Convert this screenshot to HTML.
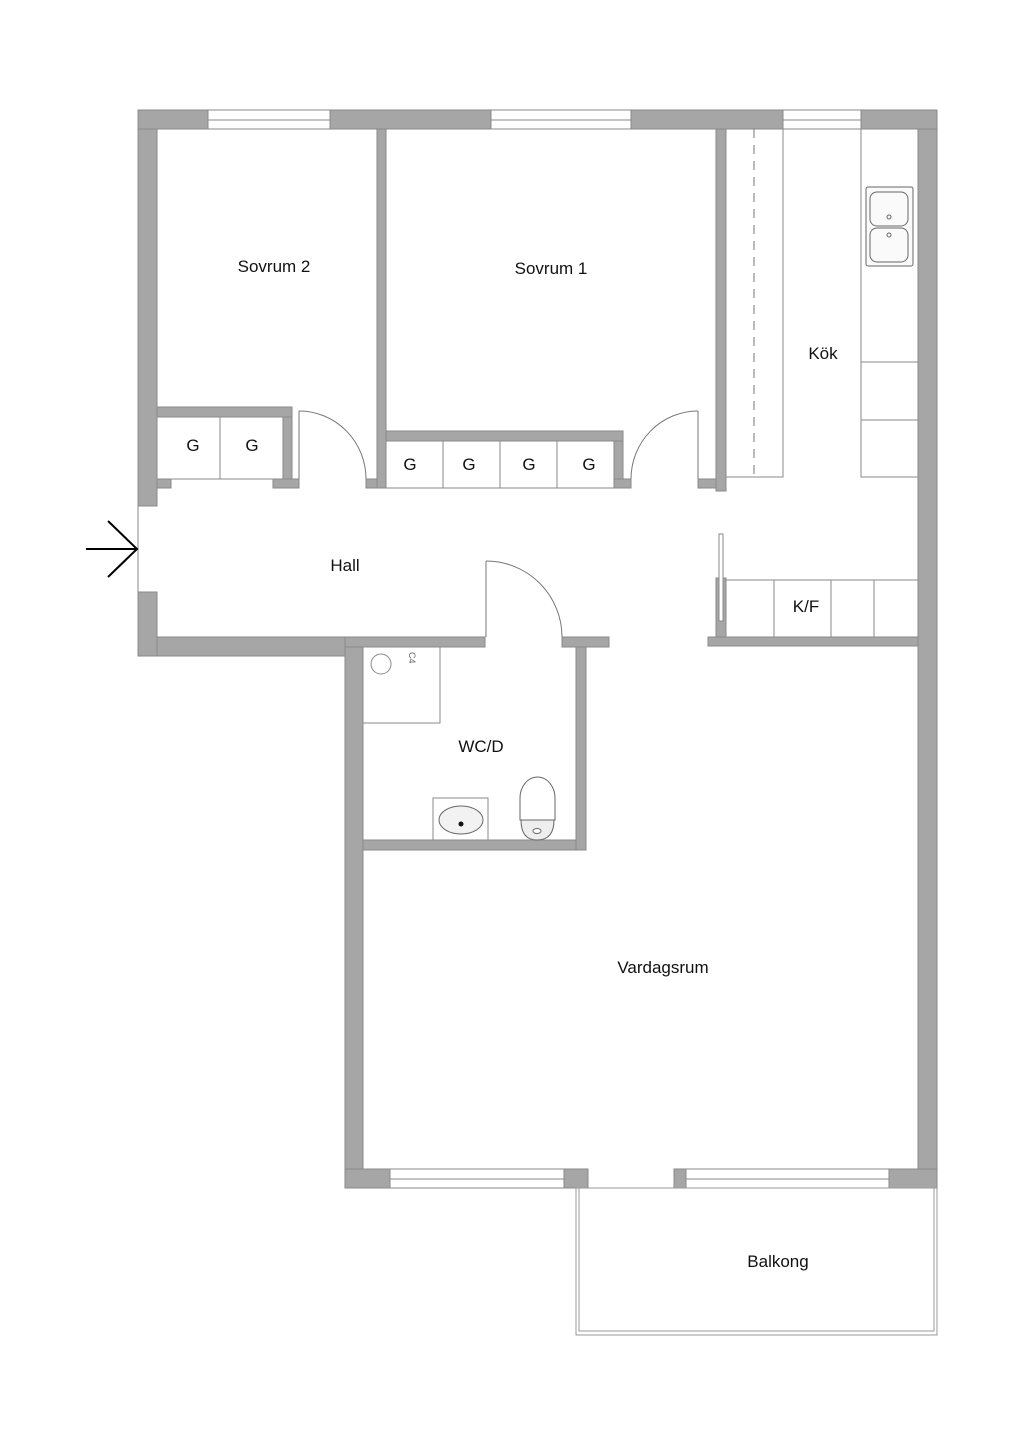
<!DOCTYPE html>
<html><head><meta charset="utf-8"><style>
html,body{margin:0;padding:0;background:#fff;}
svg{display:block;}
text{font-family:"Liberation Sans",sans-serif;font-size:17px;fill:#111;}
</style></head><body>
<svg width="1024" height="1449" viewBox="0 0 1024 1449" xmlns="http://www.w3.org/2000/svg">
<g fill="#a6a6a6" stroke="#8a8a8a" stroke-width="1">
<!-- top wall segments -->
<rect x="138" y="110" width="70" height="19"/>
<rect x="330" y="110" width="161" height="19"/>
<rect x="631" y="110" width="152" height="19"/>
<rect x="861" y="110" width="76" height="19"/>
<!-- left wall -->
<rect x="138" y="129" width="19" height="377"/>
<rect x="138" y="592" width="19" height="64"/>
<!-- hall bottom wall -->
<rect x="157" y="637" width="188" height="19"/>
<rect x="345" y="637" width="140" height="10"/>
<rect x="562" y="637" width="47" height="10"/>
<!-- bathroom walls -->
<rect x="345" y="647" width="18" height="541"/>
<rect x="576" y="647" width="10" height="203"/>
<rect x="363" y="840" width="213" height="10"/>
<!-- right wall -->
<rect x="918" y="129" width="19" height="1059"/>
<!-- vardagsrum top -->
<rect x="708" y="637" width="210" height="9"/>
<rect x="716" y="578" width="10" height="59"/>
<!-- bottom wall -->
<rect x="345" y="1169" width="45" height="19"/>
<rect x="564" y="1169" width="24" height="19"/>
<rect x="674" y="1169" width="12" height="19"/>
<rect x="889" y="1169" width="48" height="19"/>
<!-- sovrum2 closet walls -->
<rect x="157" y="407" width="135" height="10"/>
<rect x="283" y="417" width="9" height="62"/>
<rect x="273" y="479" width="26" height="9"/>
<rect x="157" y="479" width="14" height="9"/>
<!-- wall between sovrum -->
<rect x="377" y="129" width="9" height="359"/>
<rect x="366" y="479" width="11" height="9"/>
<rect x="386" y="431" width="237" height="10"/>
<rect x="614" y="441" width="9" height="38"/>
<rect x="614" y="479" width="17" height="9"/>
<!-- kitchen wall -->
<rect x="716" y="129" width="10" height="362"/>
<rect x="698" y="479" width="18" height="9"/>
</g>
<g fill="#fff" stroke="#8a8a8a" stroke-width="1">
<!-- windows -->
<rect x="208" y="110" width="122" height="19"/><line x1="208" y1="120" x2="330" y2="120"/>
<rect x="491" y="110" width="140" height="19"/><line x1="491" y1="120" x2="631" y2="120"/>
<rect x="783" y="110" width="78" height="19"/><line x1="783" y1="120" x2="861" y2="120"/>
<rect x="390" y="1169" width="174" height="19"/><line x1="390" y1="1179" x2="564" y2="1179"/>
<rect x="686" y="1169" width="203" height="19"/><line x1="686" y1="1179" x2="889" y2="1179"/>
<line x1="138" y1="506" x2="138" y2="592"/>
<line x1="588" y1="1188" x2="674" y2="1188"/>
<!-- closets -->
<rect x="157" y="417" width="126" height="62"/><line x1="220" y1="417" x2="220" y2="479"/>
<rect x="386" y="441" width="228" height="47"/>
<line x1="443" y1="441" x2="443" y2="488"/><line x1="500" y1="441" x2="500" y2="488"/><line x1="557" y1="441" x2="557" y2="488"/>
<!-- kitchen counters -->
<rect x="726" y="129" width="57" height="348"/>
<rect x="861" y="129" width="57" height="348"/>
<line x1="861" y1="362" x2="918" y2="362"/><line x1="861" y1="420" x2="918" y2="420"/>
<rect x="726" y="580" width="192" height="57"/>
<line x1="774" y1="580" x2="774" y2="637"/><line x1="831" y1="580" x2="831" y2="637"/><line x1="874" y1="580" x2="874" y2="637"/>
<rect x="719" y="534" width="4" height="87"/>
<!-- shower -->
<rect x="363" y="647" width="77" height="76"/>
<circle cx="381" cy="664" r="10"/>
<!-- sink -->
<rect x="433" y="798" width="55" height="42"/>
<!-- balcony -->
<rect x="576" y="1188" width="361" height="147" stroke="#999"/>
<rect x="579" y="1188" width="355" height="143" stroke="#999"/>
</g>
<line x1="754" y1="129" x2="754" y2="477" stroke="#777" stroke-dasharray="9,7"/>
<!-- doors -->
<g fill="none" stroke="#777" stroke-width="1">
<line x1="299" y1="411" x2="299" y2="479"/><path d="M299 411 A67 68 0 0 1 366 479"/>
<line x1="698" y1="411" x2="698" y2="479"/><path d="M698 411 A67 68 0 0 0 631 479"/>
<line x1="486" y1="561" x2="486" y2="637"/><path d="M486 561 A76 76 0 0 1 562 637"/>
</g>
<!-- kitchen sink -->
<g stroke="#666" fill="#fafafa">
<rect x="866" y="187" width="47" height="79" rx="2"/>
<rect x="870" y="192" width="38" height="34" rx="7"/>
<rect x="870" y="228" width="38" height="34" rx="7"/>
<circle cx="889" cy="217" r="2"/><circle cx="889" cy="235" r="2"/>
</g>
<!-- bathroom fixtures -->
<ellipse cx="461" cy="820" rx="22" ry="14" fill="#f2f2f2" stroke="#666"/>
<circle cx="461" cy="824" r="2.5" fill="#111"/>
<path d="M520 820 L520 798 A17.5 21 0 0 1 555 798 L555 820 Z" fill="#fff" stroke="#666"/>
<path d="M521 820 L554 820 Q554 840 537 840 Q521 840 521 820 Z" fill="#eee" stroke="#666"/>
<ellipse cx="537" cy="831" rx="4" ry="2.5" fill="#fff" stroke="#666"/>
<text x="404" y="657" transform="rotate(90 409 657)" style="font-size:9px;fill:#666">C4</text>
<!-- entry arrow -->
<g stroke="#000" stroke-width="2" fill="none">
<line x1="86" y1="549" x2="137" y2="549"/>
<polyline points="108,521 137,549 108,577"/>
</g>
<!-- labels -->
<text x="274" y="272" text-anchor="middle">Sovrum 2</text>
<text x="551" y="274" text-anchor="middle">Sovrum 1</text>
<text x="823" y="359" text-anchor="middle">Kök</text>
<text x="345" y="571" text-anchor="middle">Hall</text>
<text x="481" y="752" text-anchor="middle">WC/D</text>
<text x="663" y="973" text-anchor="middle">Vardagsrum</text>
<text x="778" y="1267" text-anchor="middle">Balkong</text>
<text x="806" y="612" text-anchor="middle">K/F</text>
<g text-anchor="middle">
<text x="193" y="451">G</text><text x="252" y="451">G</text>
<text x="410" y="470">G</text><text x="469" y="470">G</text><text x="529" y="470">G</text><text x="589" y="470">G</text>
</g>
</svg>
</body></html>
